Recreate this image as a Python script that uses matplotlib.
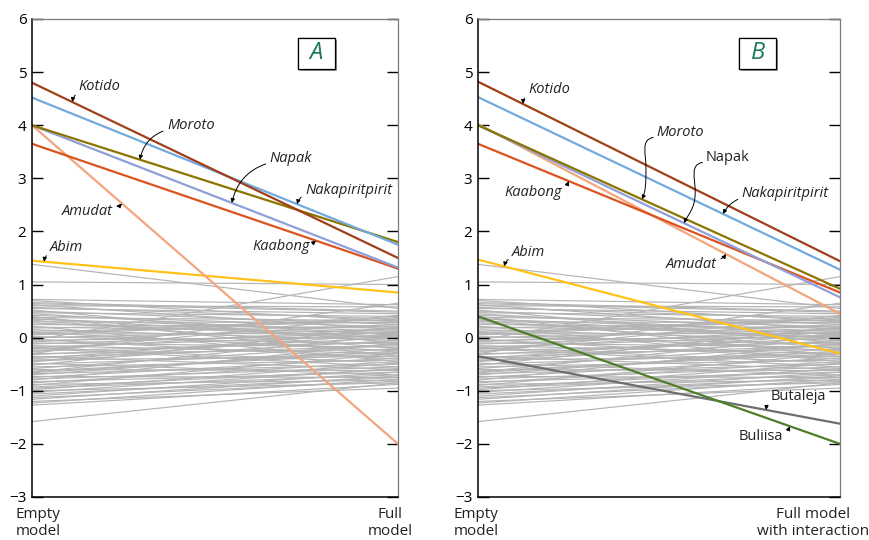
import numpy as np
import matplotlib
matplotlib.use('Agg')
import matplotlib.pyplot as plt
import matplotlib.patheffects as pe
from matplotlib.patches import FancyArrowPatch, Rectangle
from matplotlib.path import Path

plt.rcParams['font.family'] = ['Open Sans', 'DejaVu Sans']

# grey lines: district values, empty model -> full model
grey_start = [1.38, 1.05, 0.72, 0.70, 0.66, 0.62, 0.60, 0.57, 0.55, 0.52, 0.50, 0.47, 0.45, 0.42,
              0.40, 0.38, 0.35, 0.33, 0.30, 0.28, 0.25, 0.22, 0.20, 0.18, 0.15, 0.12, 0.10, 0.07,
              0.05, 0.02, 0.00, -0.03, -0.05, -0.08, -0.10, -0.12, -0.15, -0.18, -0.20, -0.22,
              -0.25, -0.27, -0.30, -0.32, -0.35, -0.37, -0.40, -0.42, -0.45, -0.48, -0.50, -0.52,
              -0.55, -0.58, -0.60, -0.63, -0.65, -0.68, -0.70, -0.73, -0.75, -0.78, -0.80, -0.83,
              -0.85, -0.88, -0.90, -0.93, -0.95, -0.98, -1.00, -1.03, -1.06, -1.10, -1.13, -1.16,
              -1.20, -1.23, -1.27, -1.58, -0.05, -0.30, 0.64, 0.36, 0.08, -0.18, -0.44, -0.66]
grey_end = [0.55, 1.00, 0.62, 0.30, 0.50, 0.15, 0.58, 0.35, 0.45, -0.10, 0.25, 0.40, 0.05, 0.20,
            -0.35, 0.32, 0.12, -0.20, 0.28, 0.00, 0.18, -0.45, 0.10, 0.30, -0.05, 0.22, -0.25, 0.08,
            0.35, -0.12, 0.15, -0.40, 0.02, 0.25, -0.18, 0.10, -0.30, 0.05, -0.55, 0.18,
            -0.08, 0.42, -0.22, 0.00, -0.60, -0.15, 0.12, -0.35, -0.05, -0.70, -0.28, 0.20,
            -0.42, -0.12, -0.62, -0.30, 0.05, -0.50, -0.20, -0.75, -0.38, -0.55, -0.10, -0.65,
            -0.45, -0.80, -0.30, -0.60, -0.70, -0.48, -0.85, -0.58, -0.75, -0.65, -0.82, -0.72,
            -0.95, -0.78, -0.88, -0.85, 1.15, 0.65, 0.48, -0.02, 0.38, -0.48, 0.08, -0.25]

names_a = ['Abim', 'Amudat', 'Kaabong', 'Napak', 'Moroto', 'Nakapiritpirit', 'Kotido']
start_a = [1.45, 4.00, 3.65, 4.00, 4.00, 4.52, 4.80]
end_a = [0.85, -2.00, 1.30, 1.32, 1.80, 1.75, 1.50]

names_b = ['Butaleja', 'Buliisa', 'Abim', 'Amudat', 'Kaabong', 'Napak', 'Moroto',
           'Nakapiritpirit', 'Kotido']
start_b = [-0.35, 0.40, 1.47, 4.02, 3.65, 4.00, 4.00, 4.53, 4.82]
end_b = [-1.62, -2.00, -0.30, 0.45, 0.85, 0.76, 0.92, 1.28, 1.44]

colors = {'Abim': '#ffc21a', 'Amudat': '#f3a57c', 'Kaabong': '#d9541e', 'Napak': '#8e9fd9',
          'Moroto': '#8c7400', 'Nakapiritpirit': '#72aade', 'Kotido': '#a0401a',
          'Butaleja': '#6e6e6e', 'Buliisa': '#4d7f2b'}

# label: (text x, text y, ha, tip x, relpos, rad, italic)
labels_a = {
    'Kotido': (0.128, 4.72, 'left', 0.11, (0, 0.2), 0.2, True),
    'Moroto': (0.369, 4.00, 'left', 0.295, (0, 0.2), 0.3, True),
    'Napak': (0.650, 3.38, 'left', 0.546, (0, 0.2), 0.3, True),
    'Nakapiritpirit': (0.746, 2.78, 'left', 0.724, (0, 0.2), 0.2, True),
    'Kaabong': (0.760, 1.71, 'right', 0.776, (1, 0.8), 0.2, True),
    'Amudat': (0.221, 2.37, 'right', 0.246, (1, 0.8), 0.2, True),
    'Abim': (0.049, 1.70, 'left', 0.033, (0, 0.2), 0.2, True),
}
labels_b = {
    'Kotido': (0.138, 4.68, 'left', 0.124, (0, 0.2), 0.2, True),
    'Nakapiritpirit': (0.729, 2.72, 'left', 0.677, (0, 0.2), 0.2, True),
    'Kaabong': (0.232, 2.74, 'right', 0.251, (1, 0.8), 0.2, True),
    'Amudat': (0.660, 1.37, 'right', 0.685, (1, 0.8), 0.2, True),
    'Abim': (0.094, 1.61, 'left', 0.072, (0, 0.2), 0.2, True),
    'Butaleja': (0.809, -1.10, 'left', 0.796, (0, 0.2), 0.2, False),
    'Buliisa': (0.843, -1.87, 'right', 0.862, (1, 0.8), 0.2, False),
}
# S-shaped leaders in panel B
s_labels_b = {
    'Moroto': (0.494, 3.87, 0.453, True),
    'Napak': (0.630, 3.40, 0.569, False),
}

fig = plt.figure(figsize=(8.69, 5.40), dpi=100)
ax_a = fig.add_axes([32 / 869, 43 / 540, 366 / 869, 478 / 540])
ax_b = fig.add_axes([478 / 869, 43 / 540, 362 / 869, 478 / 540])


def setup(ax, panel, box_x, left_x, right_label, right_x):
    ax.set_xlim(0, 1)
    ax.set_ylim(-3, 6)
    ax.set_yticks(range(-3, 7))
    ax.set_yticklabels([str(v).replace('-', '\u2212') for v in range(-3, 7)])
    ax.tick_params(axis='y', direction='in', length=8, width=1, right=True, labelsize=11, pad=4)
    ax.set_xticks([])
    ax.spines['left'].set_linewidth(1.1)
    ax.spines['bottom'].set_linewidth(1.1)
    for s in ['top', 'right']:
        ax.spines[s].set_color('#7a7a7a')
        ax.spines[s].set_linewidth(0.9)
    tr = ax.get_xaxis_transform()
    ax.text(left_x, -0.02, 'Empty\nmodel', transform=tr, ha='center', va='top', fontsize=11,
            linespacing=1.2, color='#222222')
    ax.text(right_x, -0.02, right_label, transform=tr, ha='center', va='top', fontsize=11,
            linespacing=1.2, color='#222222')
    w = 37 / (ax.get_position().width * 869)
    h = 31 / 478
    box = Rectangle((box_x - w / 2, 0.928 - h / 2), w, h, transform=ax.transAxes,
                    fc='white', ec='black', lw=0.9, zorder=6)
    box.set_path_effects([pe.withSimplePatchShadow(offset=(1.5, -1.5), shadow_rgbFace='#777777',
                                                   alpha=0.7), pe.Normal()])
    ax.add_patch(box)
    ax.text(box_x, 0.928, panel, transform=ax.transAxes, ha='center', va='center',
            fontsize=17, style='italic', color='#1b7a5c', zorder=7)


def draw(ax, names, starts, ends, labels):
    for s, e in zip(grey_start, grey_end):
        ax.plot([0, 1], [s, e], color='#b4b4b4', lw=0.85, zorder=1)
    for n, s, e in zip(names, starts, ends):
        ax.plot([0, 1], [s, e], color=colors[n], lw=1.6, zorder=2)
    lookup = dict(zip(names, zip(starts, ends)))
    for n, (tx, ty, ha, px, rel, rad, ital) in labels.items():
        s, e = lookup[n]
        py = np.interp(px, [0, 1], [s, e])
        ax.annotate(n, xy=(px, py), xytext=(tx, ty), ha=ha, va='center', fontsize=10.5,
                    style='italic' if ital else 'normal', color='#222222', zorder=5,
                    arrowprops=dict(arrowstyle='-|>', color='black', lw=0.7,
                                    mutation_scale=6, relpos=rel, shrinkA=1, shrinkB=0,
                                    connectionstyle='arc3,rad=%s' % rad))


setup(ax_a, 'A', 0.777, 0.016, 'Full\nmodel', 0.978)
setup(ax_b, 'B', 0.773, -0.005, 'Full model\nwith interaction', 0.925)
draw(ax_a, names_a, start_a, end_a, labels_a)
draw(ax_b, names_b, start_b, end_b, labels_b)

lookup_b = dict(zip(names_b, zip(start_b, end_b)))
for n, (tx, ty, px, ital) in s_labels_b.items():
    s, e = lookup_b[n]
    py = np.interp(px, [0, 1], [s, e])
    ax_b.text(tx, ty, n, ha='left', va='center', fontsize=10.5,
              style='italic' if ital else 'normal', color='#222222', zorder=5)
    x0, y0 = tx - 0.01, ty - 0.1
    mid_y = (y0 + py) / 2
    verts = [(x0, y0), (x0 - 0.035, y0 - 0.05), (x0 - 0.02, mid_y + 0.3), (x0 - 0.02, mid_y),
             (x0 - 0.02, mid_y - 0.3), (px + 0.01, py + 0.15), (px, py)]
    codes = [Path.MOVETO, Path.CURVE4, Path.CURVE4, Path.CURVE4, Path.CURVE4, Path.CURVE4,
             Path.CURVE4]
    arr = FancyArrowPatch(path=Path(verts, codes), arrowstyle='-|>', color='black', lw=0.7,
                          mutation_scale=6, zorder=5)
    ax_b.add_patch(arr)

fig.savefig('out.png', dpi=100)
